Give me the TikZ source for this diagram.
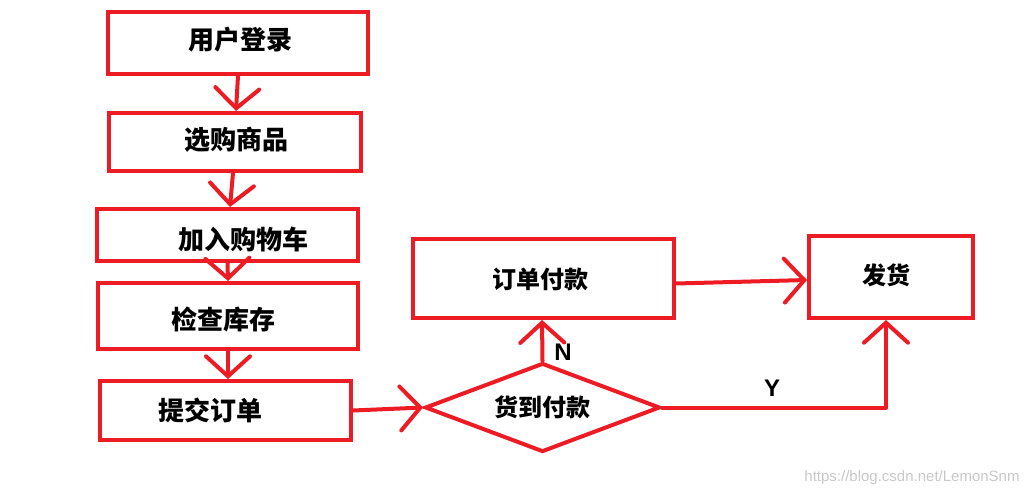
\documentclass[tikz,border=0pt]{standalone}
\usepackage{fontspec}
\setmainfont{Liberation Sans}
\newfontfamily\cjk{Noto Sans CJK SC}
\usetikzlibrary{arrows.meta,shapes.geometric}
\definecolor{pred}{RGB}{237,28,36}
\definecolor{wm}{RGB}{200,200,200}
\begin{document}
\begin{tikzpicture}[x=1pt,y=-1pt,
  box/.style={draw=pred,line width=4pt,rectangle,inner sep=0pt},
  dia/.style={draw=pred,line width=4pt,diamond,shape aspect=2.64,inner sep=0pt,font=\cjk\bfseries\fontsize{24}{24}\selectfont},
  lblL/.style={font=\cjk\bfseries\fontsize{26}{26}\selectfont,inner sep=0pt},
  lblR/.style={font=\cjk\bfseries\fontsize{24}{24}\selectfont,inner sep=0pt},
  yn/.style={font=\bfseries\fontsize{24}{24}\selectfont,inner sep=0pt},
  arr/.style={draw=pred,line width=4pt,line cap=round,line join=round,-{Straight Barb[length=20pt,width=44pt,line cap=round]}}]
\useasboundingbox (0,0) rectangle (1035,495);
% boxes
\node[box,minimum width=260pt,minimum height=62pt] (b1) at (238,43) {};
\node[box,minimum width=252pt,minimum height=58pt] (b2) at (235,142) {};
\node[box,minimum width=261pt,minimum height=52pt] (b3) at (227.5,235) {};
\node[box,minimum width=260pt,minimum height=66pt] (b4) at (228,316) {};
\node[box,minimum width=251pt,minimum height=59pt] (b5) at (225.5,410.5) {};
\node[box,minimum width=261pt,minimum height=79pt] (b6) at (543.5,278.5) {};
\node[box,minimum width=164pt,minimum height=82pt] (b7) at (891,277) {};
\node[dia,minimum width=235pt,minimum height=89pt] (d) at (542.5,407.5) {货到付款};
% labels
\node[lblL] (t1) at (240,40) {用户登录};
\node[lblL] (t2) at (236,140) {选购商品};
\node[lblL] (t3) at (243,239) {加入购物车};
\node[lblL] (t4) at (223,319) {检查库存};
\node[lblL] (t5) at (210,410) {提交订单};
\node[lblR] (t6) at (540,279) {订单付款};
\node[lblR] (t7) at (886,275) {发货};
\node[yn] (n) at (563,352) {N};
\node[yn] (y) at (772,388) {Y};
% arrows
\draw[arr] (b1.south) -- ([xshift=1pt]b2.north);
\draw[arr] ([xshift=-2pt]b2.south) -- ([xshift=2.5pt]b3.north);
\draw[arr] (b3.south) -- (b4.north);
\draw[arr] (b4.south) -- ([xshift=2.5pt]b5.north);
\draw[arr] (b5.east) -- (d.west);
\draw[arr] (d.north) -- ([xshift=-1.5pt]b6.south);
\draw[arr] ([yshift=-5pt]b6.east) -- ([yshift=-3pt]b7.west);
\draw[arr] (d.east) -| ([xshift=-5pt]b7.south);
% watermark
\node[font=\fontsize{15}{15}\selectfont,text=wm,inner sep=0pt] (wm) at (912,478) {https://blog.csdn.net/LemonSnm};
\end{tikzpicture}
\end{document}
